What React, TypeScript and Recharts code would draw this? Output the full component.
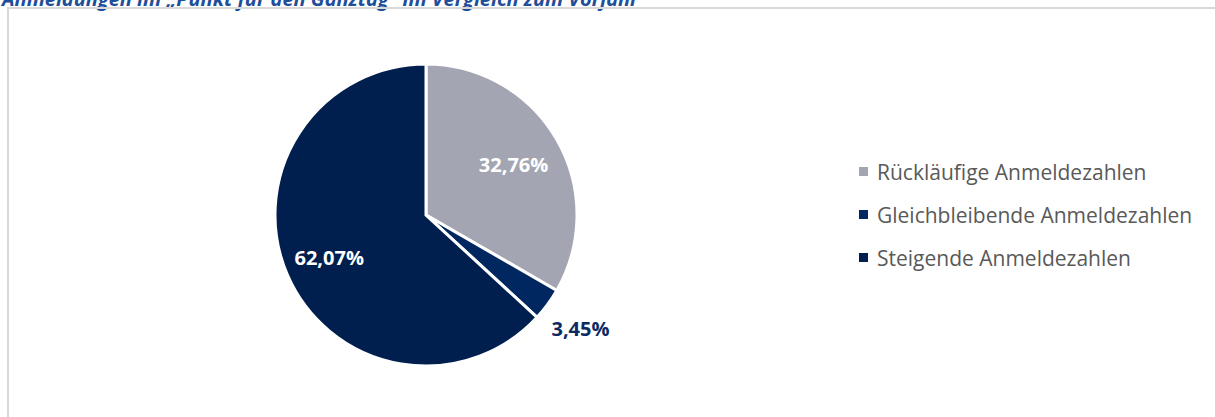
import { PieChart, Pie, Cell, Legend } from 'recharts';

const categories = ['Rückläufige Anmeldezahlen', 'Gleichbleibende Anmeldezahlen', 'Steigende Anmeldezahlen'];
const shares = [32.76, 3.45, 62.07];
const colors = ['#A3A6B2', '#00275F', '#001E4E'];

const data = categories.map((name, i) => ({ name, value: shares[i] }));

const RAD = Math.PI / 180;
// label distance from centre, as share of radius (small slice goes outside)
const labelRadius = [0.67, 1.27, 0.7];

const renderLabel = (props: any) => {
  const { cx, cy, midAngle, outerRadius, index, value } = props;
  const outside = index === 1;
  const r = outerRadius * labelRadius[index];
  const x = cx + r * Math.cos(-midAngle * RAD);
  const y = cy + r * Math.sin(-midAngle * RAD);
  return (
    <text
      x={x}
      y={y}
      fill={outside ? '#0B2A63' : '#FFFFFF'}
      textAnchor="middle"
      dominantBaseline="central"
      fontSize={20}
      fontWeight={700}
      fontFamily="'Open Sans', sans-serif"
    >
      {value.toFixed(2).replace('.', ',')}%
    </text>
  );
};

const renderLegend = () => (
  <div style={{ fontFamily: "'Open Sans', sans-serif", fontSize: 21, color: '#595959' }}>
    {data.map((d, i) => (
      <div key={d.name} style={{ display: 'flex', alignItems: 'center', height: 43 }}>
        <span style={{ width: 9, height: 9, background: colors[i], marginRight: 9, display: 'inline-block' }} />
        <span>{d.name}</span>
      </div>
    ))}
  </div>
);

export default function App() {
  return (
    <div style={{ position: 'fixed', left: 0, top: 0, width: 1215, height: 417, overflow: 'hidden', background: '#fff' }}>
      <div
        style={{
          position: 'absolute',
          left: 2,
          top: -11,
          fontFamily: "'Open Sans', sans-serif",
          fontSize: 20,
          lineHeight: '20px',
          fontWeight: 700,
          fontStyle: 'italic',
          color: '#1F4E9A',
          whiteSpace: 'nowrap',
        }}
      >
        Anmeldungen im „Punkt für den Ganztag“ im Vergleich zum Vorjahr
      </div>
      <div style={{ position: 'absolute', left: 7, top: 7, width: 1230, height: 430, border: '2px solid #D9D9D9' }} />
      <div style={{ position: 'absolute', left: 0, top: 0 }}>
        <PieChart width={1215} height={417}>
          <Pie
            data={data}
            dataKey="value"
            nameKey="name"
            cx={421}
            cy={210}
            outerRadius={151}
            startAngle={90}
            endAngle={-270}
            stroke="#FFFFFF"
            strokeWidth={3}
            labelLine={false}
            label={renderLabel}
            isAnimationActive={false}
          >
            {data.map((_, i) => (
              <Cell key={i} fill={colors[i]} />
            ))}
          </Pie>
          <Legend content={renderLegend} wrapperStyle={{ left: 859, top: 150, width: 360 }} />
        </PieChart>
      </div>
    </div>
  );
}
